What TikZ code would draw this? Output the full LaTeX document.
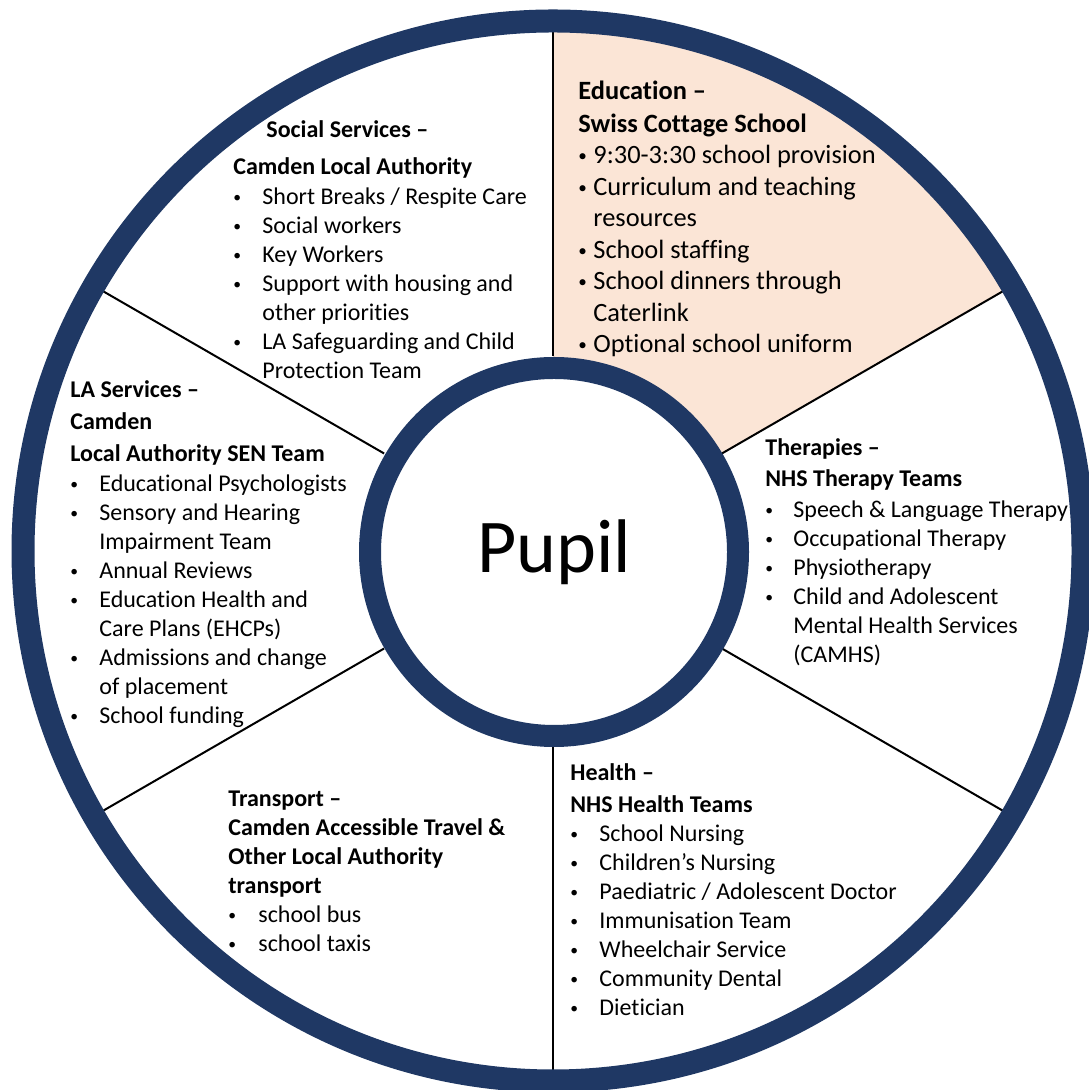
\documentclass[tikz,border=0pt]{standalone}
\usepackage{fontspec}
\setmainfont{Carlito}[Ligatures={TeX,NoCommon}]
\usepackage{xcolor}
\usepackage{tikz}

\definecolor{ringblue}{HTML}{1F3864}
\definecolor{peach}{HTML}{FBE5D6}
\newcommand{\itemdot}[1][14.5pt]{\makebox[#1][l]{\raisebox{1.2pt}{\scalebox{0.65}{\textbullet}}}}

\begin{document}
\begin{tikzpicture}[x=0.5pt,y=0.5pt,
    divider/.style={black,line width=1pt},
    blocktext/.style={anchor=base west,align=left,inner sep=0pt,
      font=\fontsize{12pt}{14.5pt}\selectfont}]

\useasboundingbox (0,0) rectangle (1088,1090);

\begin{scope}[shift={(553,539)}]

    \fill[peach] (90:184) -- (90:530) arc(90:30:530) -- (30:184) arc(30:90:184) -- cycle;

    \draw[divider] (90:195) -- (90:519);
    \draw[divider] (30:195) -- (30:519);
    \draw[divider] (150:195) -- (150:519);
    \draw[divider] (210:195) -- (210:519);
    \draw[divider] (270:195) -- (270:519);
    \draw[divider] (330:195) -- (330:519);

    \draw[ringblue,line width=11.5pt] (0,0) circle(530);
    \draw[ringblue,line width=11pt,fill=white] (1,-1) circle(184);

\end{scope}

\node[anchor=base,inner sep=0pt,font=\fontsize{38pt}{40pt}\selectfont] (pupil) at (554,517) {Pupil};

% blocks are placed by the baseline of their last line
\node[blocktext] (social) at (233,711) {%
  \hspace*{16.5pt}\textbf{Social Services –}\\[4pt]
  \textbf{Camden Local Authority}\\[0.5pt]
  \itemdot Short Breaks / Respite Care\\
  \itemdot Social workers\\
  \itemdot Key Workers\\
  \itemdot Support with housing and\\
  \hspace*{14.5pt}other priorities\\
  \itemdot LA Safeguarding and Child\\
  \hspace*{14.5pt}Protection Team};

\node[blocktext,font=\fontsize{13.2pt}{15.75pt}\selectfont] (education) at (578,737) {%
  \textbf{Education –}\\[0.75pt]
  \textbf{Swiss Cottage School}\\[-0.25pt]
  \itemdot[7.5pt]9:30-3:30 school provision\\
  \itemdot[7.5pt]Curriculum and teaching\\
  \hspace*{7.5pt}resources\\
  \itemdot[7.5pt]School staffing\\
  \itemdot[7.5pt]School dinners through\\
  \hspace*{7.5pt}Caterlink\\
  \itemdot[7.5pt]Optional school uniform};

\node[blocktext] (laservices) at (70,366) {%
  \textbf{LA Services –}\\[1.5pt]
  \textbf{Camden}\\[1.5pt]
  \textbf{Local Authority SEN Team}\\[0.5pt]
  \itemdot Educational Psychologists\\
  \itemdot Sensory and Hearing\\
  \hspace*{14.5pt}Impairment Team\\
  \itemdot Annual Reviews\\
  \itemdot Education Health and\\
  \hspace*{14.5pt}Care Plans (EHCPs)\\
  \itemdot Admissions and change\\
  \hspace*{14.5pt}of placement\\
  \itemdot School funding};

\node[blocktext] (therapies) at (765,427) {%
  \textbf{Therapies –}\\[1pt]
  \textbf{NHS Therapy Teams}\\[1pt]
  \itemdot[14pt]Speech \& Language Therapy\\
  \itemdot[14pt]Occupational Therapy\\
  \itemdot[14pt]Physiotherapy\\
  \itemdot[14pt]Child and Adolescent\\
  \hspace*{14pt}Mental Health Services\\
  \hspace*{14pt}(CAMHS)};

\node[blocktext] (transport) at (228,138) {%
  \textbf{Transport –}\\
  \textbf{Camden Accessible Travel \&}\\
  \textbf{Other Local Authority}\\
  \textbf{transport}\\
  \itemdot[15pt]school bus\\
  \itemdot[15pt]school taxis};

\node[blocktext] (health) at (570,74) {%
  \textbf{Health –}\\[1.5pt]
  \textbf{NHS Health Teams}\\
  \itemdot School Nursing\\
  \itemdot Children’s Nursing\\
  \itemdot Paediatric / Adolescent Doctor\\
  \itemdot Immunisation Team\\
  \itemdot Wheelchair Service\\
  \itemdot Community Dental\\
  \itemdot Dietician};

\end{tikzpicture}
\end{document}
